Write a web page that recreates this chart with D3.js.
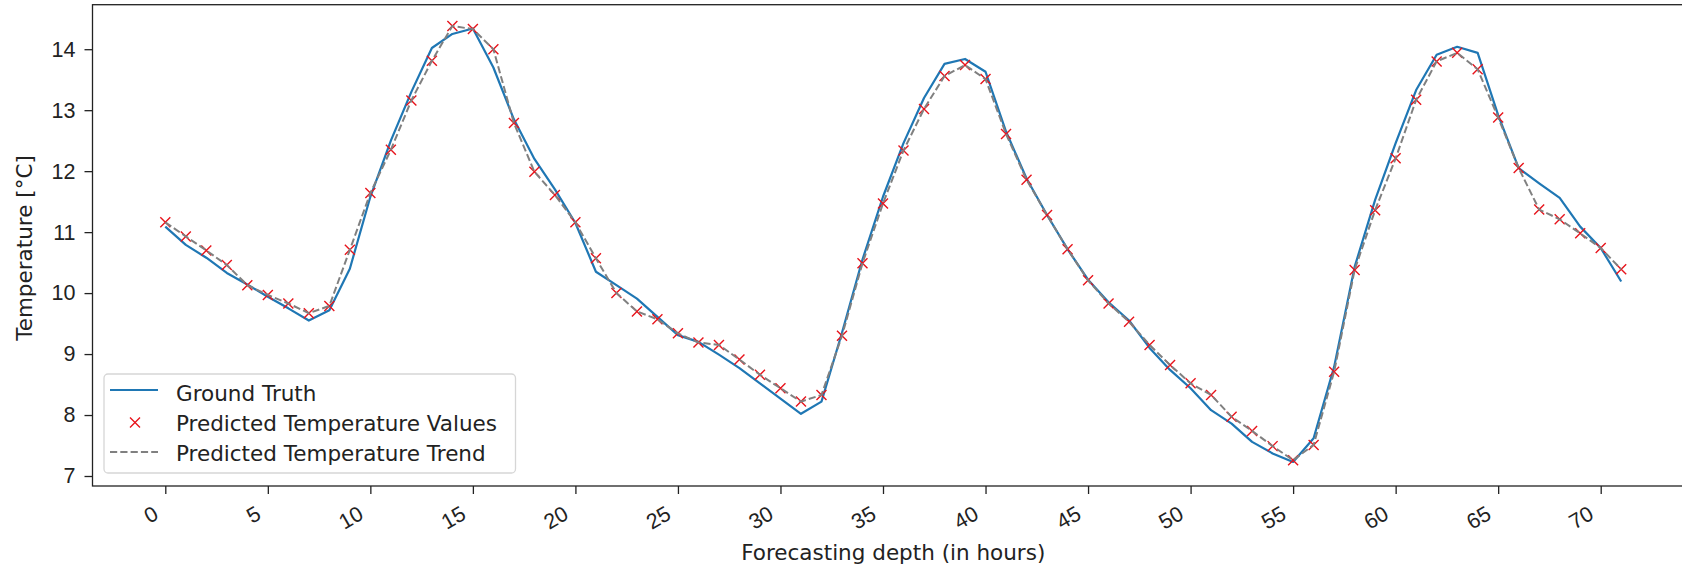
<!DOCTYPE html>
<html>
<head>
<meta charset="utf-8">
<script src="https://cdn.jsdelivr.net/npm/d3@7"></script>
<style>
  body { margin: 0; background: #fff; }
  svg { display: block; font-family: "DejaVu Sans", sans-serif; }
</style>
</head>
<body>
<script>
var hours = d3.range(0, 72)
var groundTruth = [11.09, 10.79, 10.58, 10.33, 10.14, 9.94, 9.75, 9.55, 9.72, 10.40,
    11.58, 12.50, 13.30, 14.02, 14.25, 14.34, 13.70, 12.85, 12.20, 11.70,
    11.15, 10.35, 10.13, 9.91, 9.61, 9.31, 9.20, 8.99, 8.77, 8.52,
    8.27, 8.02, 8.22, 9.35, 10.55, 11.58, 12.46, 13.20, 13.76, 13.84,
    13.63, 12.65, 11.88, 11.28, 10.72, 10.22, 9.85, 9.55, 9.10, 8.74,
    8.44, 8.08, 7.86, 7.56, 7.37, 7.23, 7.62, 8.79, 10.43, 11.53,
    12.46, 13.33, 13.91, 14.04, 13.94, 12.92, 12.05, 11.80, 11.56, 11.09,
    10.74, 10.19]
var predicted = [11.16, 10.93, 10.70, 10.46, 10.13, 9.97, 9.83, 9.67, 9.79, 10.71,
    11.64, 12.35, 13.16, 13.81, 14.38, 14.33, 14.00, 12.79, 11.99, 11.61,
    11.16, 10.57, 10.00, 9.70, 9.57, 9.34, 9.19, 9.15, 8.91, 8.66,
    8.44, 8.22, 8.33, 9.30, 10.49, 11.47, 12.34, 13.02, 13.56, 13.74,
    13.51, 12.61, 11.86, 11.28, 10.72, 10.21, 9.83, 9.53, 9.15, 8.82,
    8.52, 8.33, 7.97, 7.74, 7.49, 7.26, 7.51, 8.71, 10.38, 11.36,
    12.21, 13.17, 13.80, 13.94, 13.67, 12.88, 12.05, 11.37, 11.21, 10.98,
    10.74, 10.39]
var xTicks = d3.range(0, 71, 5)
var yTicks = [7, 8, 9, 10, 11, 12, 13, 14]
var legendLabels = ["Ground Truth", "Predicted Temperature Values", "Predicted Temperature Trend"]

var width = 1682, height = 565
var plot = {l: 92.5, r: 1694, t: 4.7, b: 486}
var fs = 21.5

var svg = d3.select("body").append("svg")
    .attr("width", width)
    .attr("height", height)

var x = d3.scaleLinear().domain([-3.55, 74.55]).range([plot.l, plot.r])
var y = d3.scaleLinear().domain([6.836, 14.73]).range([plot.b, plot.t])

// 坐标轴
var xAxis = svg.append("g")
    .attr("transform", "translate(0," + plot.b + ")")
    .call(d3.axisBottom(x).tickValues(xTicks).tickSize(8).tickSizeOuter(0).tickFormat(d3.format("d")))
xAxis.select(".domain").remove()
xAxis.selectAll("line").attr("stroke", "#222").attr("stroke-width", 1.3)
xAxis.selectAll("text")
    .attr("font-size", fs)
    .attr("fill", "#222")
    .attr("text-anchor", "end")
    .attr("y", 0)
    .attr("dy", 0)
    .attr("transform", "translate(-6,32) rotate(-30)")

var yAxis = svg.append("g")
    .attr("transform", "translate(" + plot.l + ",0)")
    .call(d3.axisLeft(y).tickValues(yTicks).tickSize(8).tickPadding(9).tickFormat(d3.format("d")))
yAxis.select(".domain").remove()
yAxis.selectAll("line").attr("stroke", "#222").attr("stroke-width", 1.3)
yAxis.selectAll("text").attr("font-size", fs).attr("fill", "#222")

svg.append("rect")
    .attr("x", plot.l)
    .attr("y", plot.t)
    .attr("width", plot.r - plot.l)
    .attr("height", plot.b - plot.t)
    .attr("fill", "none")
    .attr("stroke", "#222")
    .attr("stroke-width", 1.3)

svg.append("text")
    .attr("x", (plot.l + plot.r) / 2)
    .attr("y", 560)
    .attr("text-anchor", "middle")
    .attr("font-size", fs)
    .attr("fill", "#222")
    .text("Forecasting depth (in hours)")

svg.append("text")
    .attr("transform", "translate(32,248) rotate(-90)")
    .attr("text-anchor", "middle")
    .attr("font-size", fs)
    .attr("fill", "#222")
    .text("Temperature [°C]")

// 数据
var g = svg.append("g")
var line = d3.line()
    .x(function (d, i) { return x(hours[i]) })
    .y(function (d) { return y(d) })

g.append("path")
    .datum(groundTruth)
    .attr("d", line)
    .attr("fill", "none")
    .attr("stroke", "#1f77b4")
    .attr("stroke-width", 2.2)
    .attr("stroke-linejoin", "round")

var ms = 5
function cross(cx, cy) {
    return "M" + (cx - ms) + "," + (cy - ms) + "L" + (cx + ms) + "," + (cy + ms) +
        "M" + (cx - ms) + "," + (cy + ms) + "L" + (cx + ms) + "," + (cy - ms)
}
g.selectAll(".pred")
    .data(predicted)
    .enter()
    .append("path")
    .attr("class", "pred")
    .attr("d", function (d, i) { return cross(x(hours[i]), y(d)) })
    .attr("stroke", "#e8141c")
    .attr("stroke-width", 1.4)

g.append("path")
    .datum(predicted)
    .attr("d", line)
    .attr("fill", "none")
    .attr("stroke", "#808080")
    .attr("stroke-width", 2)
    .attr("stroke-dasharray", "7.2,3.1")

// 图例
var lg = svg.append("g")
lg.append("rect")
    .attr("x", 104)
    .attr("y", 374)
    .attr("width", 411.5)
    .attr("height", 99)
    .attr("rx", 4)
    .attr("fill", "#fff")
    .attr("fill-opacity", 0.8)
    .attr("stroke", "#d6d6d6")
    .attr("stroke-width", 1.3)

var handleY = [390, 422.5, 452]
var textY = [401, 431, 461]
lg.append("line")
    .attr("x1", 110).attr("x2", 158)
    .attr("y1", handleY[0]).attr("y2", handleY[0])
    .attr("stroke", "#1f77b4").attr("stroke-width", 2.2)
lg.append("path")
    .attr("d", cross(135, handleY[1]))
    .attr("stroke", "#e8141c").attr("stroke-width", 1.4)
lg.append("line")
    .attr("x1", 110).attr("x2", 158)
    .attr("y1", handleY[2]).attr("y2", handleY[2])
    .attr("stroke", "#808080").attr("stroke-width", 2)
    .attr("stroke-dasharray", "7.2,3.1")

lg.selectAll(".lgtext")
    .data(legendLabels)
    .enter()
    .append("text")
    .attr("class", "lgtext")
    .attr("x", 176)
    .attr("y", function (d, i) { return textY[i] })
    .attr("font-size", fs)
    .attr("fill", "#222")
    .text(function (d) { return d })
</script>
</body>
</html>
